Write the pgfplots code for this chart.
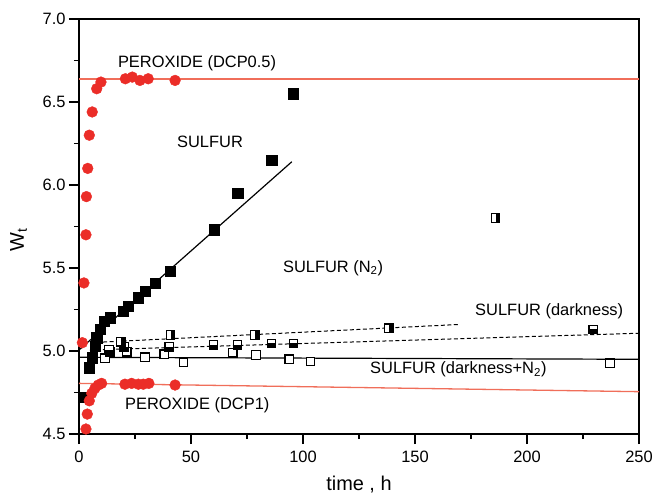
\documentclass[border=0pt]{standalone}
\usepackage{pgfplots}
\pgfplotsset{compat=1.18}
\usepackage{fontspec}
\setmainfont{Liberation Sans}
\definecolor{redm}{RGB}{235,45,40}
\definecolor{redl}{RGB}{240,110,90}
\pgfdeclareplotmark{sqR}{%
  \begin{pgfscope}\pgfsetfillcolor{white}%
  \pgfpathrectangle{\pgfpoint{-\pgfplotmarksize}{-\pgfplotmarksize}}{\pgfpoint{2\pgfplotmarksize}{2\pgfplotmarksize}}\pgfusepath{fill}\end{pgfscope}%
  \pgfpathrectangle{\pgfpoint{0pt}{-\pgfplotmarksize}}{\pgfpoint{\pgfplotmarksize}{2\pgfplotmarksize}}\pgfusepath{fill}%
  \pgfpathrectangle{\pgfpoint{-\pgfplotmarksize}{-\pgfplotmarksize}}{\pgfpoint{2\pgfplotmarksize}{2\pgfplotmarksize}}\pgfusepath{stroke}%
}
\pgfdeclareplotmark{sqB}{%
  \begin{pgfscope}\pgfsetfillcolor{white}%
  \pgfpathrectangle{\pgfpoint{-\pgfplotmarksize}{-\pgfplotmarksize}}{\pgfpoint{2\pgfplotmarksize}{2\pgfplotmarksize}}\pgfusepath{fill}\end{pgfscope}%
  \pgfpathrectangle{\pgfpoint{-\pgfplotmarksize}{-\pgfplotmarksize}}{\pgfpoint{2\pgfplotmarksize}{\pgfplotmarksize}}\pgfusepath{fill}%
  \pgfpathrectangle{\pgfpoint{-\pgfplotmarksize}{-\pgfplotmarksize}}{\pgfpoint{2\pgfplotmarksize}{2\pgfplotmarksize}}\pgfusepath{stroke}%
}
\begin{document}
\begin{tikzpicture}
\begin{axis}[name=ax,
  scale only axis, width=560bp, height=415bp,
  xmin=0, xmax=250, ymin=4.5, ymax=7.0,
  xtick={0,50,...,250}, ytick={4.5,5.0,...,7.0},
  minor x tick num=1, minor y tick num=1,
  tick pos=left, tick align=outside,
  major tick length=10bp, minor tick length=5bp,
  every tick/.style={black, line width=1.2bp},
  axis line style={line width=1.6bp},
  ticklabel style={font=\fontsize{16.5}{18}\selectfont},
  /pgf/number format/assume math mode=true,
  yticklabel style={/pgf/number format/.cd, fixed, fixed zerofill, precision=1},
  xticklabel style={yshift=-3bp, /pgf/number format/.cd, fixed, precision=0},
  xlabel={time , h}, ylabel={W\textsubscript{t}},
  label style={font=\fontsize{20}{22}\selectfont},
  xlabel style={at={(axis description cs:0.5,-0.123)}, anchor=center},
  ylabel style={at={(axis description cs:-0.108,0.467)}, anchor=center, rotate=0},
  clip=false,
]
% lines
\addplot[redl, line width=1.3bp] coordinates {(0,6.638) (250,6.638)};
\addplot[redl, line width=1.3bp] coordinates {(0,4.805) (250,4.755)};
\addplot[black, line width=1.2bp] coordinates {(0,5.006) (95,6.14)};
\addplot[black, line width=1bp, dash pattern=on 4bp off 2.5bp] coordinates {(7.9,5.052) (170,5.16)};
\addplot[black, line width=1bp, dash pattern=on 4bp off 2.5bp] coordinates {(4.9,5.006) (250,5.107)};
\addplot[black, line width=1.2bp] coordinates {(0,4.962) (250,4.95)};
% darkness+N2 open squares
\addplot[only marks, mark=square*, mark size=4.3bp, mark options={fill=white, draw=black, line width=1.1bp}] coordinates {
(11.7,4.956) (13.8,4.996) (21.3,4.996) (29.5,4.962) (38.1,4.98) (46.6,4.93) (68.6,4.99) (79,4.976) (93.9,4.95) (103.4,4.936) (237,4.926)};
% darkness bottom-half filled
\addplot[only marks, mark=sqB, mark size=4.3bp, mark options={fill=black, draw=black, line width=1.1bp}] coordinates {
(13.5,5.006) (20.2,5.026) (40.3,5.026) (60,5.036) (70.7,5.036) (86,5.046) (95.7,5.046) (229.6,5.13)};
% N2 right-half filled
\addplot[only marks, mark=sqR, mark size=4.3bp, mark options={fill=black, draw=black, line width=1.1bp}] coordinates {
(18.75,5.056) (40.9,5.096) (78.6,5.096) (138.5,5.137) (186,5.80)};
% sulfur filled squares
\addplot[only marks, mark=square*, mark size=5.2bp, mark options={fill=black, draw=black}] coordinates {
(2.2,4.72) (4.5,4.90) (5.9,4.96) (7.1,5.03) (7.9,5.08) (9.4,5.13) (11.2,5.18) (13.8,5.20) (19.8,5.24) (22.0,5.27) (26.5,5.32) (29.5,5.36) (33.9,5.41) (40.6,5.48) (60.4,5.73) (70.8,5.95) (86.0,6.15) (95.7,6.55)};
% peroxide DCP0.5
\addplot[only marks, mark=*, mark size=5.4bp, mark options={fill=redm, draw=redm}] coordinates {
(1.5,5.05) (2.2,5.41) (3.1,5.70) (3.3,5.93) (3.9,6.10) (4.6,6.30) (5.9,6.44) (7.9,6.58) (9.8,6.62) (20.7,6.64) (23.8,6.65) (27.2,6.63) (30.9,6.64) (42.9,6.63)};
% peroxide DCP1
\addplot[only marks, mark=*, mark size=5.4bp, mark options={fill=redm, draw=redm}] coordinates {
(3.1,4.53) (3.7,4.62) (4.6,4.70) (5.7,4.745) (7.1,4.775) (8.6,4.795) (10.1,4.805) (20.5,4.80) (23.5,4.805) (26.5,4.80) (28.7,4.80) (31.2,4.805) (42.9,4.795)};
% labels
\begin{scope}[every node/.style={font=\fontsize{16.5}{18}\selectfont, inner sep=0pt}]
\node at (axis cs:52.7,6.735) {PEROXIDE (DCP0.5)};
\node at (axis cs:58.5,6.26) {SULFUR};
\node[anchor=west] at (axis cs:91,5.50) {SULFUR (N\textsubscript{2})};
\node[anchor=west] at (axis cs:176.8,5.237) {SULFUR (darkness)};
\node[anchor=west] at (axis cs:129.9,4.89) {SULFUR (darkness+N\textsubscript{2})};
\node[anchor=west] at (axis cs:20.5,4.675) {PEROXIDE (DCP1)};
\end{scope}
\end{axis}
\pgfresetboundingbox
\path[use as bounding box] ([xshift=-79bp,yshift=-63bp]ax.south west) rectangle ([xshift=14bp,yshift=19bp]ax.north east);
\end{tikzpicture}
\end{document}
